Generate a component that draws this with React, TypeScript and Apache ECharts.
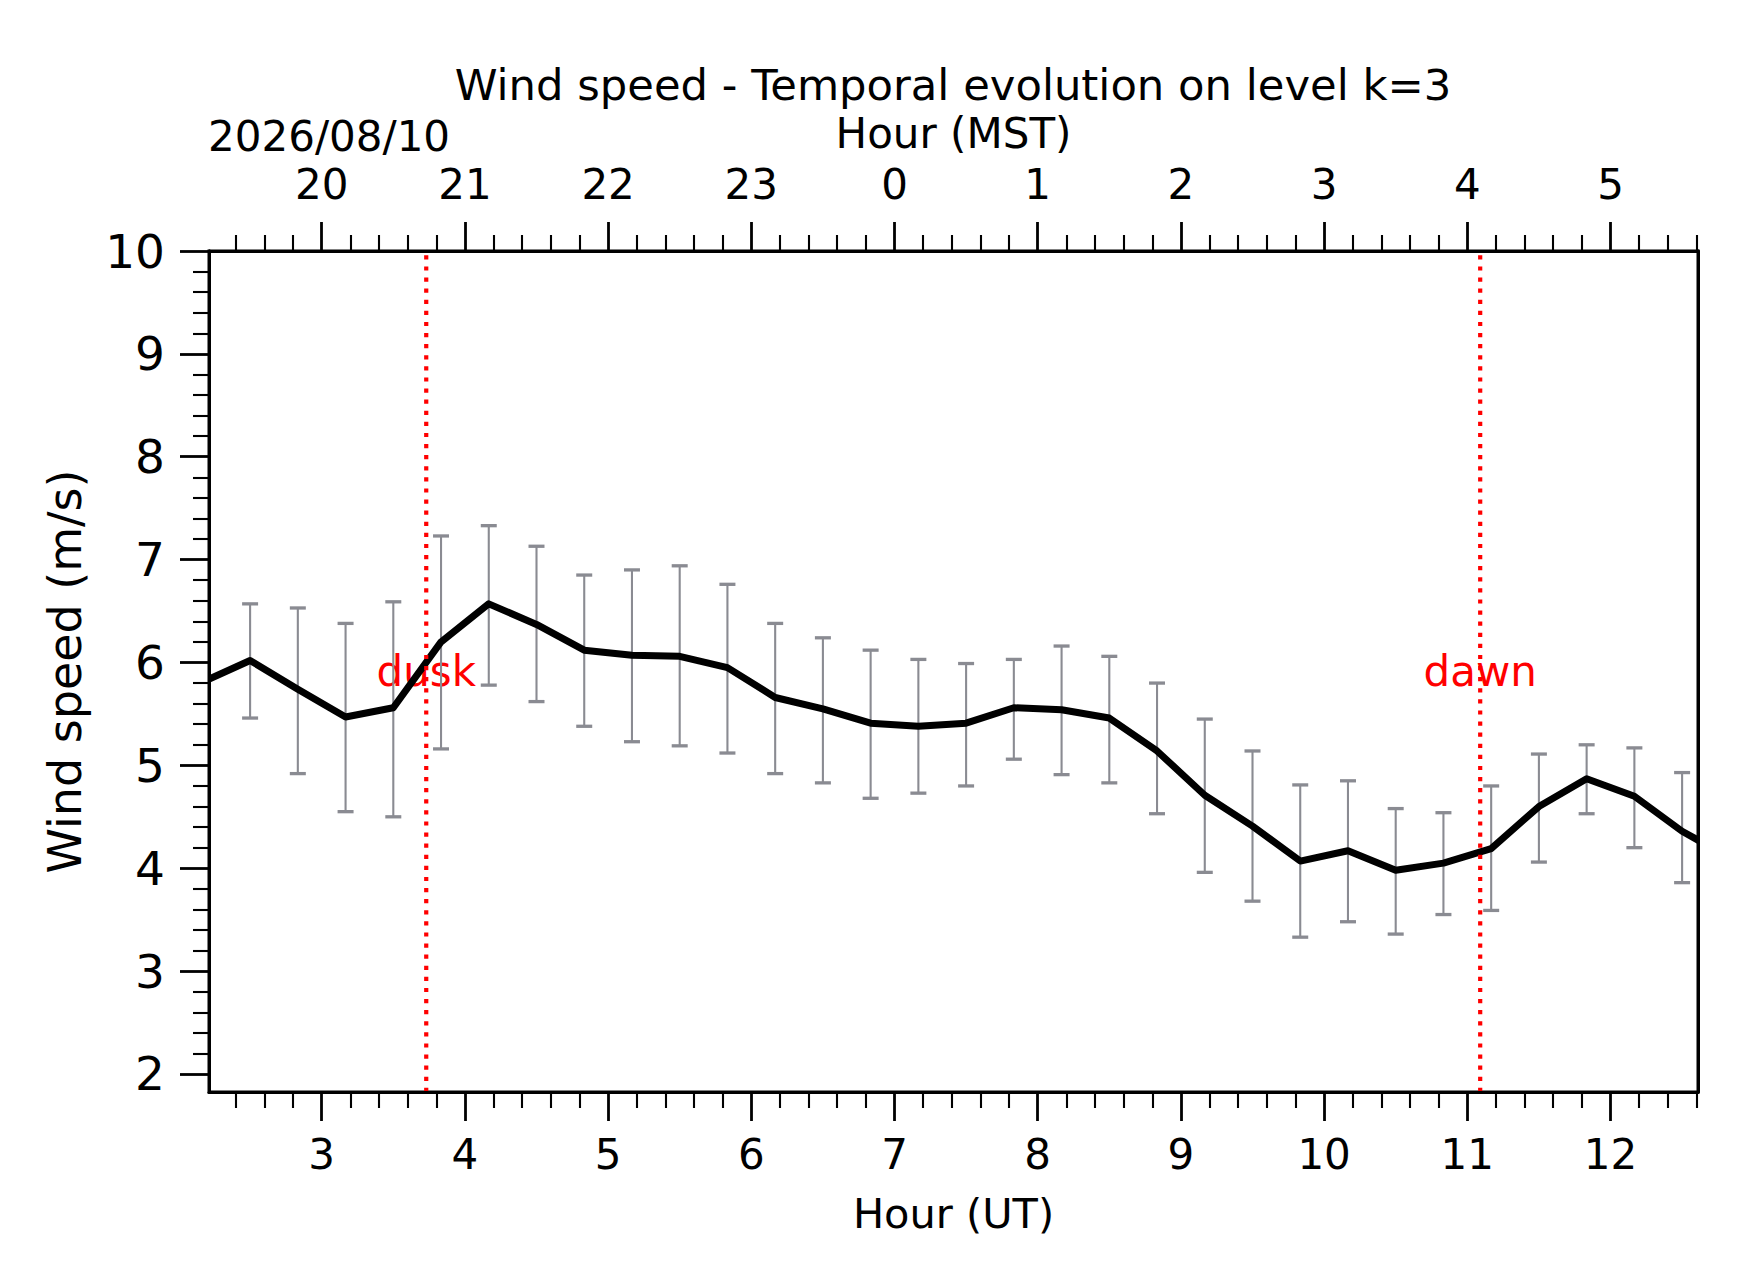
import React, { useEffect, useRef } from "react";
import * as echarts from "echarts";

// ---------------- data ----------------
// Hour (UT), every 20 minutes; first and last points lie just outside the plotted range
const TIME_UT = [
  2.1667, 2.5, 2.8333, 3.1667, 3.5, 3.8333, 4.1667, 4.5, 4.8333, 5.1667, 5.5,
  5.8333, 6.1667, 6.5, 6.8333, 7.1667, 7.5, 7.8333, 8.1667, 8.5, 8.8333,
  9.1667, 9.5, 9.8333, 10.1667, 10.5, 10.8333, 11.1667, 11.5, 11.8333,
  12.1667, 12.5, 12.8333,
];
const WIND_MEAN = [
  5.81, 6.02, 5.74, 5.47, 5.56, 6.2, 6.57, 6.37, 6.12, 6.07, 6.06,
  5.95, 5.66, 5.55, 5.41, 5.38, 5.41, 5.56, 5.54, 5.46, 5.14,
  4.71, 4.41, 4.07, 4.17, 3.98, 4.05, 4.19, 4.6, 4.87,
  4.7, 4.36, 4.1,
];
// error-bar ends (null where the bar is outside the plot)
const WIND_UPPER = [
  null, 6.57, 6.53, 6.38, 6.59, 7.23, 7.33, 7.13, 6.85, 6.9, 6.94,
  6.76, 6.38, 6.24, 6.12, 6.03, 5.99, 6.03, 6.16, 6.06, 5.8,
  5.45, 5.14, 4.81, 4.85, 4.58, 4.54, 4.8, 5.11, 5.2,
  5.17, 4.93, null,
];
const WIND_LOWER = [
  null, 5.46, 4.92, 4.55, 4.5, 5.16, 5.78, 5.62, 5.38, 5.23, 5.19,
  5.12, 4.92, 4.83, 4.68, 4.73, 4.8, 5.06, 4.91, 4.83, 4.53,
  3.96, 3.68, 3.33, 3.48, 3.36, 3.55, 3.59, 4.06, 4.53,
  4.2, 3.86, null,
];
// dusk / dawn markers (Hour UT)
const EVENT_TIME = [3.73, 11.09];
const EVENT_LABELS = ["dusk", "dawn"];

// axes
const X_MIN = 2.213;
const X_MAX = 12.611;
const Y_MIN = 1.825;
const Y_MAX = 10;
const UT_TICKS = [3, 4, 5, 6, 7, 8, 9, 10, 11, 12];
const MST_LABELS = ["20", "21", "22", "23", "0", "1", "2", "3", "4", "5"];
const Y_TICKS = [2, 3, 4, 5, 6, 7, 8, 9, 10];
const DATE_LABEL = "2026/08/10";
const TITLE = "Wind speed - Temporal evolution on level k=3";

// minor ticks every 0.2
const X_MINOR: number[] = [];
for (let k = 12; k <= 63; k++) if (k % 5 !== 0) X_MINOR.push(Math.round(k * 2) / 10);
const Y_MINOR: number[] = [];
for (let k = 10; k <= 50; k++) if (k % 5 !== 0) Y_MINOR.push(Math.round(k * 2) / 10);

const FONT = '"DejaVu Sans", "Liberation Sans", sans-serif';
const GRAY = "#8a8b92";

function makeXAxis(position: string, ticks: number[], len: number, width: number, labels: boolean, extra: any = {}) {
  return {
    type: "value",
    gridIndex: 0,
    position,
    min: X_MIN,
    max: X_MAX,
    z: 10,
    axisLine: { show: labels, lineStyle: { color: "#000", width: 3 } },
    splitLine: { show: false },
    axisTick: {
      show: true,
      inside: false,
      customValues: ticks,
      length: len,
      lineStyle: { color: "#000", width },
    },
    axisLabel: labels
      ? { show: true, customValues: ticks, fontSize: 42, fontFamily: FONT, color: "#000", ...(extra.axisLabel || {}) }
      : { show: false },
    ...(extra.rest || {}),
  };
}

function makeYAxis(position: string, ticks: number[], len: number, width: number, labels: boolean, extra: any = {}) {
  return {
    type: "value",
    gridIndex: 0,
    position,
    min: Y_MIN,
    max: Y_MAX,
    z: 10,
    axisLine: { show: true, lineStyle: { color: "#000", width: 3 } },
    splitLine: { show: false },
    axisTick: {
      show: ticks.length > 0,
      inside: false,
      customValues: ticks,
      length: len,
      lineStyle: { color: "#000", width },
    },
    axisLabel: labels
      ? { show: true, customValues: ticks, fontSize: 47, fontFamily: FONT, color: "#000", margin: 44 }
      : { show: false },
    ...extra,
  };
}

export default function App() {
  const ref = useRef<HTMLDivElement>(null);

  useEffect(() => {
    document.body.style.margin = "0";
    if (!ref.current) return;
    const chart = echarts.init(ref.current, null, { renderer: "svg" });

    const lineData = TIME_UT.map((t, i) => [t, WIND_MEAN[i]]);
    const errData: number[][] = [];
    TIME_UT.forEach((t, i) => {
      const u = WIND_UPPER[i];
      const l = WIND_LOWER[i];
      if (u != null && l != null) errData.push([t, l, u]);
    });
    const eventData = EVENT_TIME.map((t) => [t, Y_MIN]);

    const textStyle = (text: string, size: number, fill: string, align: string) => ({
      text,
      font: `${size}px "DejaVu Sans"`,
      fontSize: size,
      fontFamily: FONT,
      fill,
      textAlign: align,
      align,
      textVerticalAlign: "middle",
      verticalAlign: "middle",
    });

    const option: any = {
      animation: false,
      backgroundColor: "#ffffff",
      textStyle: { fontFamily: FONT },
      grid: {
        left: 209,
        top: 251,
        width: 1489,
        height: 841,
        show: true,
        borderColor: "#000",
        borderWidth: 3,
        backgroundColor: "transparent",
        containLabel: false,
        outerBoundsMode: "none",
      },
      xAxis: [
        makeXAxis("bottom", UT_TICKS, 29, 2.8, true, {
          axisLabel: { margin: 41 },
          rest: {
            name: "Hour (UT)",
            nameLocation: "middle",
            nameGap: 100,
            nameTextStyle: { fontSize: 41.5, fontFamily: FONT, color: "#000" },
          },
        }),
        makeXAxis("bottom", X_MINOR, 16, 2.1, false),
        makeXAxis("top", UT_TICKS, 29, 2.8, true, {
          axisLabel: {
            margin: 45.5,
            formatter: (v: number) => {
              const idx = UT_TICKS.indexOf(Math.round(v));
              return idx >= 0 ? MST_LABELS[idx] : "";
            },
          },
          rest: {
            name: "Hour (MST)",
            nameLocation: "middle",
            nameGap: 97,
            nameTextStyle: { fontSize: 42, fontFamily: FONT, color: "#000" },
          },
        }),
        makeXAxis("top", X_MINOR, 16, 2.1, false),
      ],
      yAxis: [
        makeYAxis("left", Y_TICKS, 29, 2.8, true, {
          name: "Wind speed (m/s)",
          nameLocation: "middle",
          nameRotate: 90,
          nameGap: 121,
          nameTextStyle: { fontSize: 46, fontFamily: FONT, color: "#000" },
        }),
        makeYAxis("left", Y_MINOR, 16, 2.1, false),
        makeYAxis("right", [], 0, 0, false),
      ],
      graphic: [
        { type: "text", x: 953, y: 85, silent: true, style: textStyle(TITLE, 43.3, "#000", "center") },
        { type: "text", x: 208, y: 136, silent: true, style: textStyle(DATE_LABEL, 42, "#000", "left") },
      ],
      series: [
        {
          type: "custom",
          name: "events-text",
          xAxisIndex: 0,
          yAxisIndex: 0,
          z: 1,
          silent: true,
          data: eventData,
          encode: { x: 0, y: 1 },
          renderItem: (params: any, api: any) => {
            const cs = params.coordSys;
            const x = api.coord([api.value(0), Y_MIN])[0];
            return {
              type: "text",
              x,
              y: cs.y + cs.height / 2,
              style: textStyle(EVENT_LABELS[params.dataIndex], 42, "#ff0000", "center"),
            };
          },
        },
        {
          type: "custom",
          name: "std",
          xAxisIndex: 0,
          yAxisIndex: 0,
          z: 2,
          silent: true,
          clip: true,
          data: errData,
          encode: { x: 0, y: [1, 2] },
          renderItem: (params: any, api: any) => {
            const t = api.value(0);
            const lo = api.coord([t, api.value(1)]);
            const hi = api.coord([t, api.value(2)]);
            const hw = 8;
            return {
              type: "group",
              children: [
                {
                  type: "line",
                  shape: { x1: lo[0], y1: lo[1], x2: hi[0], y2: hi[1] },
                  style: { stroke: GRAY, lineWidth: 2.1 },
                },
                {
                  type: "line",
                  shape: { x1: lo[0] - hw, y1: lo[1], x2: lo[0] + hw, y2: lo[1] },
                  style: { stroke: GRAY, lineWidth: 3.3 },
                },
                {
                  type: "line",
                  shape: { x1: hi[0] - hw, y1: hi[1], x2: hi[0] + hw, y2: hi[1] },
                  style: { stroke: GRAY, lineWidth: 3.3 },
                },
              ],
            };
          },
        },
        {
          // mean wind speed, drawn as one polyline through the cartesian scales
          type: "custom",
          name: "mean",
          xAxisIndex: 0,
          yAxisIndex: 0,
          z: 3,
          silent: true,
          clip: true,
          data: lineData,
          encode: { x: 0, y: 1 },
          renderItem: (params: any, api: any) => {
            if (params.dataIndex !== 0) return null;
            const pts = TIME_UT.map((t, i) => api.coord([t, WIND_MEAN[i]]));
            return {
              type: "polyline",
              shape: { points: pts },
              style: { stroke: "#000", lineWidth: 7, lineJoin: "round", lineCap: "butt", fill: null },
            };
          },
        },
        {
          type: "custom",
          name: "events",
          xAxisIndex: 0,
          yAxisIndex: 0,
          z: 4,
          silent: true,
          data: eventData,
          encode: { x: 0, y: 1 },
          renderItem: (params: any, api: any) => {
            const cs = params.coordSys;
            const x = api.coord([api.value(0), Y_MIN])[0];
            return {
              type: "line",
              shape: { x1: x, y1: cs.y + cs.height, x2: x, y2: cs.y },
              style: { stroke: "#ff0000", lineWidth: 4.2, lineDash: [4.2, 6.9], lineCap: "butt" },
            };
          },
        },
      ],
    };

    chart.setOption(option);
    return () => {
      chart.dispose();
    };
  }, []);

  return <div ref={ref} style={{ width: 1742, height: 1282, background: "#fff" }} />;
}
